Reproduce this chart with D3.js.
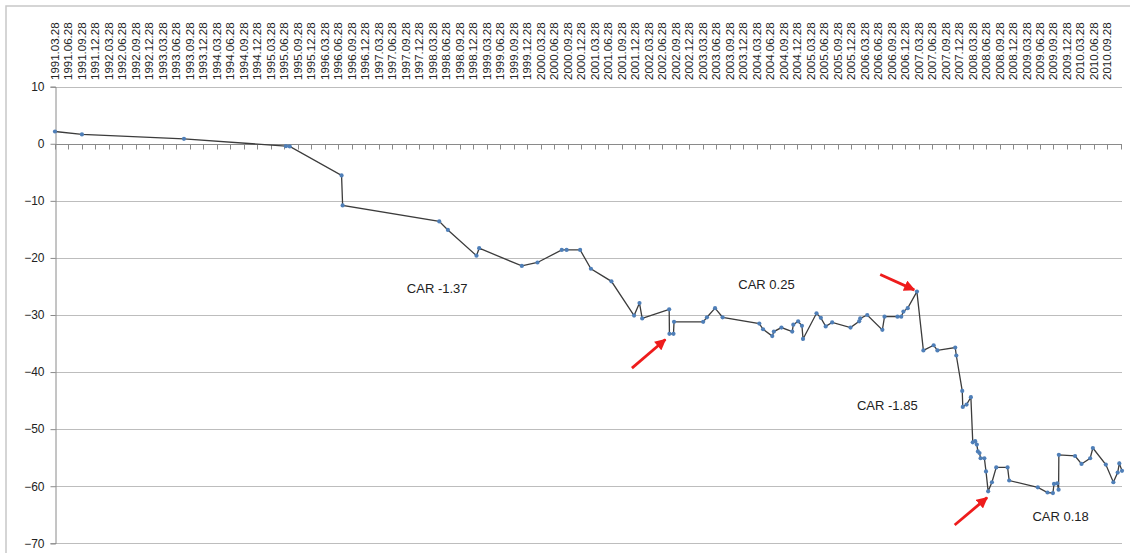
<!DOCTYPE html>
<html>
<head>
<meta charset="utf-8">
<script src="https://cdn.jsdelivr.net/npm/d3@7"></script>
<style>
  body { margin: 0; background: #fff; }
  svg { display: block; font-family: "Liberation Sans", Arial, sans-serif; }
</style>
</head>
<body>
<svg id="chart" width="1130" height="553"></svg>
<script>
// observation dates as decimal years, cumulative abnormal return values
const dates = [1991.24, 1991.74, 1993.63, 1995.52, 1995.59, 1996.55, 1996.57,
  1998.36, 1998.52, 1999.05, 1999.10, 1999.89, 2000.18, 2000.63, 2000.72, 2000.97,
  2001.17, 2001.55, 2001.97, 2002.07, 2002.12, 2002.62, 2002.625, 2002.70, 2002.71,
  2003.25, 2003.32, 2003.47, 2003.61, 2004.29, 2004.36, 2004.53, 2004.56, 2004.70,
  2004.90, 2004.92, 2005.01, 2005.08, 2005.10, 2005.35, 2005.43, 2005.52, 2005.64,
  2005.98, 2006.14, 2006.16, 2006.29, 2006.57, 2006.61, 2006.85, 2006.92, 2006.96,
  2007.04, 2007.21, 2007.33, 2007.52, 2007.59, 2007.92, 2007.94, 2008.05, 2008.06,
  2008.13, 2008.21, 2008.245, 2008.29, 2008.32, 2008.34, 2008.37, 2008.39, 2008.46,
  2008.49, 2008.53, 2008.60, 2008.68, 2008.89, 2008.92, 2009.45, 2009.63, 2009.73,
  2009.75, 2009.81, 2009.835, 2009.84, 2010.14, 2010.26, 2010.42, 2010.47, 2010.71,
  2010.85, 2010.93, 2010.96, 2011.01];
const values = [2.15, 1.63, 0.87, -0.42, -0.47, -5.55, -10.8,
  -13.6, -15.1, -19.6, -18.3, -21.4, -20.8, -18.6, -18.6, -18.6,
  -21.9, -24.1, -30.1, -27.9, -30.6, -29.0, -33.3, -33.3, -31.2,
  -31.2, -30.4, -28.8, -30.4, -31.5, -32.5, -33.7, -32.9, -32.2,
  -32.9, -31.7, -31.1, -31.9, -34.2, -29.7, -30.5, -32.0, -31.3,
  -32.2, -31.1, -30.6, -30.0, -32.6, -30.3, -30.3, -30.3, -29.4,
  -28.8, -25.9, -36.2, -35.3, -36.2, -35.7, -37.1, -43.3, -46.1,
  -45.7, -44.4, -52.3, -52.1, -52.7, -53.9, -54.2, -55.1, -55.1,
  -57.4, -60.9, -59.3, -56.7, -56.7, -59.0, -60.2, -61.1, -61.2,
  -59.6, -59.5, -60.6, -54.5, -54.7, -56.1, -55.1, -53.3, -56.2,
  -59.3, -57.6, -56.0, -57.3];

const yTicks = [10, 0, -10, -20, -30, -40, -50, -60, -70];
const tickYears = d3.range(1991, 2011);
const tickMonths = ['03', '06', '09', '12'];

const noteText = ['CAR -1.37', 'CAR 0.25', 'CAR -1.85', 'CAR 0.18'];
const noteDates = [1997.76, 2003.90, 2006.10, 2009.35];
const noteValues = [-26.1, -25.4, -46.7, -66.1];

// arrows: from (date, value) to (date, value)
const arrowFrom = [[2001.93, -39.3], [2006.53, -22.9], [2007.91, -66.8]];
const arrowTo = [[2002.55, -34.3], [2007.16, -25.6], [2008.51, -62.0]];

// quarterly labels, 1991.03.28 .. 2010.09.28
let tickLabels = [];
tickYears.forEach(y => tickMonths.forEach(m => {
  if (y == 2010 && m == '12') return;
  tickLabels.push(y + '.' + m + '.28');
}));
function labelYear(s) {
  let p = s.split('.');
  return +p[0] + (+p[1] - 1) / 12 + 27 / 365;
}

let svg = d3.select('#chart');

let x = d3.scaleLinear().domain([labelYear(tickLabels[0]), 2011.01]).range([55, 1122]);
let y = d3.scaleLinear().domain([-70, 10]).range([543.3, 86.7]);

// chart area border
svg.append('rect')
  .attr('x', 6).attr('y', 6)
  .attr('width', 1140).attr('height', 600)
  .attr('fill', 'none')
  .attr('stroke', '#c8c8c8')
  .attr('stroke-width', 1.5);

// horizontal gridlines
svg.append('g')
  .selectAll('line')
  .data(yTicks)
  .enter().append('line')
  .attr('x1', x.range()[0]).attr('x2', x.range()[1])
  .attr('y1', d => Math.round(y(d)) + 0.5).attr('y2', d => Math.round(y(d)) + 0.5)
  .attr('stroke', '#bdbdbd');

// y axis
let yAxis = svg.append('g')
  .attr('transform', 'translate(55.5,0)')
  .call(d3.axisLeft(y).tickValues(yTicks).tickSize(5).tickPadding(6).tickFormat(d3.format('d')));
yAxis.select('.domain').attr('stroke', '#8a8a8a');
yAxis.selectAll('.tick line').attr('stroke', '#8a8a8a');
yAxis.selectAll('text').attr('font-size', 12).attr('fill', '#222')
  .attr('font-family', '"Liberation Sans", Arial, sans-serif');

// horizontal axis line at zero with quarterly ticks below
let tickPos = tickLabels.map(labelYear).concat([2011.0]);
let xAxis = svg.append('g').attr('transform', `translate(0,${Math.round(y(0)) + 0.5})`);
xAxis.append('line')
  .attr('x1', x.range()[0]).attr('x2', x.range()[1])
  .attr('stroke', '#8a8a8a');
xAxis.selectAll('.qt')
  .data(tickPos)
  .enter().append('line')
  .attr('class', 'qt')
  .attr('x1', d => Math.round(x(d)) + 0.5).attr('x2', d => Math.round(x(d)) + 0.5)
  .attr('y1', 0).attr('y2', 5)
  .attr('stroke', '#8a8a8a');

// quarter labels along the top
svg.append('g')
  .selectAll('text')
  .data(tickLabels)
  .enter().append('text')
  .attr('transform', d => `translate(${x(labelYear(d)) + 4},80) rotate(-90)`)
  .attr('text-anchor', 'start')
  .attr('font-size', 11.5)
  .attr('fill', '#222')
  .text(d => d);

// series
let points = dates.map((d, i) => ({ t: d, v: values[i] }));

let line = d3.line()
  .x(d => x(d.t))
  .y(d => y(d.v));

svg.append('path')
  .datum(points)
  .attr('d', line)
  .attr('fill', 'none')
  .attr('stroke', '#3c3c3c')
  .attr('stroke-width', 1.3);

svg.append('g')
  .selectAll('circle')
  .data(points)
  .enter().append('circle')
  .attr('cx', d => x(d.t))
  .attr('cy', d => y(d.v))
  .attr('r', 2.1)
  .attr('fill', '#4f7fb8');

// CAR notes
svg.append('g')
  .selectAll('text')
  .data(noteText)
  .enter().append('text')
  .attr('x', (d, i) => x(noteDates[i]))
  .attr('y', (d, i) => y(noteValues[i]))
  .attr('font-size', 13)
  .attr('fill', '#222')
  .text(d => d);

// red arrows
svg.append('defs').append('marker')
  .attr('id', 'head')
  .attr('viewBox', '0 0 10 10')
  .attr('refX', 9).attr('refY', 5)
  .attr('markerWidth', 4.2).attr('markerHeight', 4)
  .attr('markerUnits', 'strokeWidth')
  .attr('orient', 'auto')
  .append('path')
  .attr('d', 'M0,0 L10,5 L0,10 Z')
  .attr('fill', '#ee1c1c');

svg.append('g')
  .selectAll('line')
  .data(arrowFrom)
  .enter().append('line')
  .attr('x1', d => x(d[0])).attr('y1', d => y(d[1]))
  .attr('x2', (d, i) => x(arrowTo[i][0])).attr('y2', (d, i) => y(arrowTo[i][1]))
  .attr('stroke', '#ee1c1c')
  .attr('stroke-width', 2.8)
  .attr('marker-end', 'url(#head)');
</script>
</body>
</html>
